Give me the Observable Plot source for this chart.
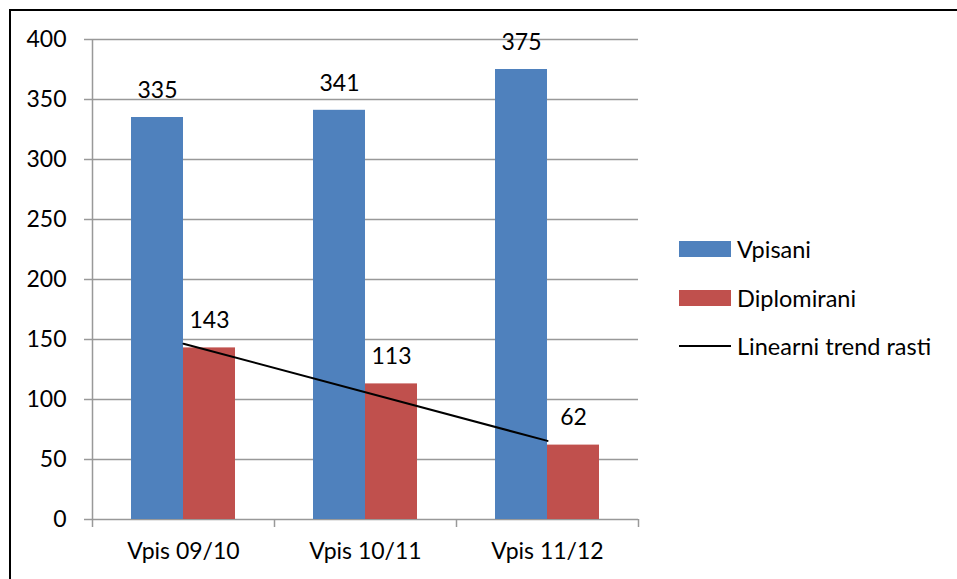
<!DOCTYPE html>
<html><head><meta charset="utf-8">
<script src="https://cdn.jsdelivr.net/npm/d3@7"></script>
<script src="https://cdn.jsdelivr.net/npm/@observablehq/plot@0.6"></script>
<style>
html,body{margin:0;background:#fff;overflow:hidden;}
#wrap{position:relative;width:957px;height:579px;overflow:hidden;font-family:Lato,sans-serif;background:#fff;}
#frame{position:absolute;left:9px;top:9px;width:1100px;height:1100px;border-left:2px solid #000;border-top:2px solid #000;box-sizing:border-box;}
#chart{position:absolute;left:0;top:0;}
#legend{position:absolute;left:679px;top:225px;font-size:23.5px;color:#000;}
.row{display:flex;align-items:center;height:48.5px;}
.sw{width:52px;height:16px;margin-right:6px;}
.ln{width:52px;height:2px;background:#000;margin-right:6px;}
</style></head>
<body>
<div id="wrap"><div id="frame"></div><div id="chart"></div><div id="legend"></div></div>
<script>
const categories = ["Vpis 09/10", "Vpis 10/11", "Vpis 11/12"];
const vpisani = [335, 341, 375];
const diplomirani = [143, 113, 62];
const seriesNames = ["Vpisani", "Diplomirani"];
const trendName = "Linearni trend rasti";
const yTicks = [0, 50, 100, 150, 200, 250, 300, 350, 400];
const colors = ["#4F81BD", "#C0504D"];

const barW = 52 / 182;
const rows = [];
categories.forEach((c, i) => {
  rows.push({pos: i + 1, series: seriesNames[0], value: vpisani[i]});
  rows.push({pos: i + 1, series: seriesNames[1], value: diplomirani[i]});
});
const dipRows = rows.filter(d => d.series === seriesNames[1]);
const off = d => (d.series === seriesNames[0] ? -barW : 0);
const grey = "#999";

const plot = Plot.plot({
  width: 957, height: 579,
  marginLeft: 92, marginRight: 319, marginTop: 39, marginBottom: 60,
  style: {fontFamily: "Lato, sans-serif", fontSize: "23px", color: "#000", background: "transparent", overflow: "visible"},
  x: {type: "linear", domain: [0.5, 3.5], axis: null, label: null},
  y: {domain: [0, 400], axis: null, label: null},
  color: {domain: seriesNames, range: colors},
  marks: [
    Plot.ruleY(yTicks, {stroke: grey, strokeWidth: 1.5}),
    Plot.ruleX([0.5], {stroke: grey, strokeWidth: 1.5}),
    Plot.axisY({ticks: yTicks, label: null, tickSize: 8, tickPadding: 18, stroke: grey, strokeWidth: 1.5, fill: "#000", fontSize: 23}),
    Plot.axisX({ticks: [0.5, 1.5, 2.5, 3.5], label: null, tickFormat: () => "", tickSize: 8, stroke: grey, strokeWidth: 1.5}),
    Plot.axisX({ticks: [1, 2, 3], label: null, tickSize: 0, tickPadding: 23, tickFormat: i => categories[i - 1], fill: "#000", fontSize: 23}),
    Plot.rectY(rows, {x1: d => d.pos + off(d), x2: d => d.pos + off(d) + barW, y1: 0, y2: "value", fill: "series"}),
    Plot.linearRegressionY(dipRows, {x: "pos", y: "value", stroke: "#000", strokeWidth: 2, ci: 0}),
    Plot.text(rows, {x: d => d.pos + off(d) + barW / 2, y: "value", text: d => String(d.value), dy: -27, fill: "#000", fontSize: 23})
  ]
});
document.getElementById("chart").appendChild(plot);

const lg = document.getElementById("legend");
seriesNames.forEach((s, i) => {
  const r = document.createElement("div"); r.className = "row";
  r.innerHTML = `<div class="sw" style="background:${colors[i]}"></div><span>${s}</span>`;
  lg.appendChild(r);
});
const r = document.createElement("div"); r.className = "row";
r.innerHTML = `<div class="ln"></div><span>${trendName}</span>`;
lg.appendChild(r);
</script>
</body></html>
